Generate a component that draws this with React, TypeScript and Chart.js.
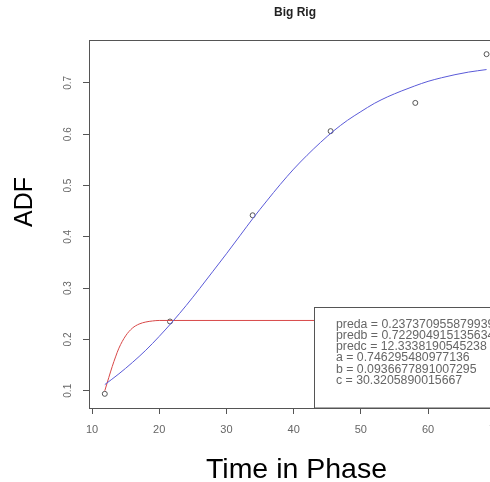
import { useEffect, useRef } from "react";
import { Chart, registerables } from "chart.js";

Chart.register(...registerables);

const FONT = "'Liberation Sans', Arial, Helvetica, sans-serif";

// Observed points
const obsX = [11.9, 21.6, 33.9, 45.5, 58.1, 68.7];
const obsY = [0.094, 0.235, 0.442, 0.606, 0.661, 0.756];

// Blue fitted curve
const blueX = [11.9, 14, 16, 18, 20, 22, 24, 26, 28, 30, 32, 34, 36, 38, 40, 42, 44, 46, 48, 50, 52, 54, 56, 58, 60, 62, 64, 66, 68.7];
const blueY = [0.112, 0.133, 0.155, 0.179, 0.206, 0.235, 0.266, 0.299, 0.333, 0.367, 0.402, 0.437, 0.47, 0.502, 0.532, 0.559, 0.584, 0.607, 0.627, 0.644, 0.66, 0.673, 0.684, 0.694, 0.703, 0.71, 0.716, 0.721, 0.726];

// Red fitted curve
const redX = [11.9, 12.5, 13, 13.5, 14, 15, 16, 17, 18, 19, 20, 22, 68.7];
const redY = [0.1, 0.126, 0.147, 0.166, 0.183, 0.207, 0.222, 0.23, 0.234, 0.236, 0.237, 0.237, 0.237];

const xTickStep = 10;
const yTickStep = 0.1;

const legendLabels = [
  "preda = 0.237370955879939",
  "predb = 0.722904915135634",
  "predc = 12.3338190545238",
  "a = 0.746295480977136",
  "b = 0.0936677891007295",
  "c = 30.3205890015667",
];

const titleText = "Big Rig";
const xTitle = "Time in Phase";
const yTitle = "ADF";

const toPts = (xs: number[], ys: number[]) => xs.map((x, i) => ({ x, y: ys[i] }));

const decor = {
  id: "rdecor",
  afterDatasetsDraw(chart: any) {
    const ctx = chart.ctx as CanvasRenderingContext2D;
    const ca = chart.chartArea;
    // legend box
    ctx.save();
    const lx = 314.5, ly = 307.5;
    ctx.fillStyle = "#ffffff";
    ctx.fillRect(lx, ly, 600, ca.bottom - ly);
    ctx.strokeStyle = "#555555";
    ctx.lineWidth = 1;
    ctx.strokeRect(lx, ly, 600, ca.bottom - ly);
    ctx.fillStyle = "#666666";
    ctx.font = `12.3px ${FONT}`;
    ctx.textAlign = "left";
    ctx.textBaseline = "middle";
    legendLabels.forEach((t, i) => {
      ctx.fillText(t, 336, 324.5 + i * 11.2);
    });
    ctx.restore();
  },
  afterDraw(chart: any) {
    const ctx = chart.ctx as CanvasRenderingContext2D;
    const ca = chart.chartArea;
    ctx.save();
    ctx.strokeStyle = "#555555";
    ctx.lineWidth = 1;
    ctx.strokeRect(Math.round(ca.left) + 0.5, Math.round(ca.top) + 0.5, ca.right - ca.left, ca.bottom - ca.top);

    // y tick labels rotated
    const ys = chart.scales.y;
    ctx.fillStyle = "#666666";
    ctx.font = `10px ${FONT}`;
    ctx.textAlign = "center";
    ctx.textBaseline = "middle";
    ys.ticks.forEach((t: any) => {
      const py = ys.getPixelForValue(t.value);
      ctx.save();
      ctx.translate(68, py);
      ctx.rotate(-Math.PI / 2);
      ctx.fillText(t.value.toFixed(1), 0, 0);
      ctx.restore();
    });

    // x tick labels
    const xs = chart.scales.x;
    ctx.font = `11px ${FONT}`;
    xs.ticks.forEach((t: any) => {
      const px = xs.getPixelForValue(t.value);
      ctx.fillText(String(Math.round(t.value)), px, 430);
    });

    // title
    ctx.fillStyle = "#222222";
    ctx.font = `bold 12px ${FONT}`;
    ctx.fillText(titleText, (ca.left + ca.right) / 2, 13);

    // axis titles
    ctx.fillStyle = "#000000";
    ctx.font = `28.5px ${FONT}`;
    ctx.textBaseline = "alphabetic";
    ctx.fillText(xTitle, 296.5, 478);
    ctx.font = `25px ${FONT}`;
    ctx.textBaseline = "middle";
    ctx.save();
    ctx.translate(25, 202);
    ctx.rotate(-Math.PI / 2);
    ctx.fillText(yTitle, 0, 0);
    ctx.restore();
    ctx.restore();
  },
};

export default function App() {
  const ref = useRef<HTMLCanvasElement>(null);
  useEffect(() => {
    const chart = new Chart(ref.current!, {
      type: "scatter",
      data: {
        datasets: [
          {
            data: toPts(blueX, blueY),
            showLine: true,
            borderColor: "#5a5ad8",
            borderWidth: 1,
            pointRadius: 0,
            cubicInterpolationMode: "monotone",
          },
          {
            data: toPts(redX, redY),
            showLine: true,
            borderColor: "#d84848",
            borderWidth: 1,
            pointRadius: 0,
            cubicInterpolationMode: "monotone",
          },
          {
            data: toPts(obsX, obsY),
            showLine: false,
            pointRadius: 2.5,
            pointBorderWidth: 1,
            pointBackgroundColor: "rgba(0,0,0,0)",
            pointBorderColor: "#555555",
          },
        ],
      },
      options: {
        animation: false,
        responsive: false,
        layout: { padding: { top: 40, right: 19, left: 0, bottom: 0 } },
        plugins: { legend: { display: false }, tooltip: { enabled: false }, title: { display: false } },
        scales: {
          x: {
            type: "linear",
            min: 9.55,
            max: 70.85,
            afterFit: (s: any) => {
              s.height = 74;
            },
            ticks: {
              stepSize: xTickStep,
              includeBounds: false,
              display: false,
              autoSkip: false,
            },
            grid: { display: true, drawOnChartArea: false, drawTicks: true, tickLength: 6, color: "#555555" },
            border: { display: true, color: "#555555" },
          },
          y: {
            type: "linear",
            min: 0.0664,
            max: 0.7836,
            afterFit: (s: any) => {
              s.width = 89;
            },
            ticks: { stepSize: yTickStep, includeBounds: false, display: false },
            grid: { display: true, drawOnChartArea: false, drawTicks: true, tickLength: 6, color: "#555555" },
            border: { display: true, color: "#555555" },
          },
        },
      },
      plugins: [decor],
    } as any);
    return () => chart.destroy();
  }, []);
  return (
    <div style={{ position: "fixed", left: 0, top: 0, width: 490, height: 482, overflow: "hidden", background: "#ffffff" }}>
      <canvas ref={ref} width={520} height={482} style={{ display: "block" }} />
    </div>
  );
}
